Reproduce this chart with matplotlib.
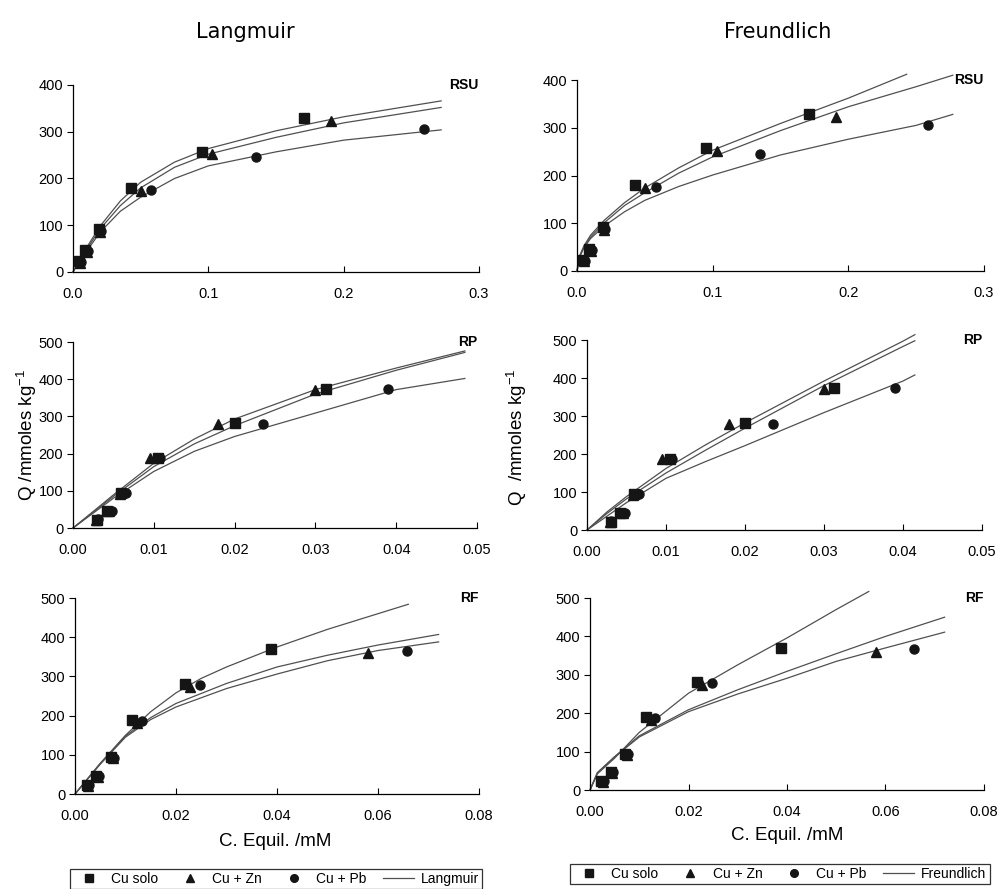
import matplotlib
matplotlib.use('Agg')
import matplotlib.pyplot as plt
from matplotlib.lines import Line2D

plt.rcParams['font.family'] = ['Liberation Sans', 'DejaVu Sans']

# ---- measured points (same for both models) ----
# RSU
rsu_c_solo = [0.0043, 0.009, 0.019, 0.043, 0.095, 0.171]
rsu_q_solo = [23, 46, 92, 180, 257, 329]
rsu_c_zn = [0.005, 0.0105, 0.020, 0.050, 0.103, 0.191]
rsu_q_zn = [20, 42, 86, 174, 252, 322]
rsu_c_pb = [0.006, 0.011, 0.021, 0.058, 0.135, 0.259]
rsu_q_pb = [21, 44, 88, 175, 246, 305]
# RP
rp_c_solo = [0.003, 0.0042, 0.006, 0.0105, 0.020, 0.0313]
rp_q_solo = [22, 45, 94, 188, 282, 375]
rp_c_zn = [0.0029, 0.0045, 0.0058, 0.0095, 0.018, 0.030]
rp_q_zn = [22, 45, 92, 187, 280, 370]
rp_c_pb = [0.0031, 0.0048, 0.0066, 0.0108, 0.0235, 0.039]
rp_q_pb = [24, 46, 94, 188, 280, 375]
# RF
rf_c_solo = [0.0023, 0.0042, 0.0071, 0.0113, 0.0218, 0.0388]
rf_q_solo = [24, 47, 95, 190, 280, 371]
rf_c_zn = [0.0026, 0.0045, 0.0076, 0.0123, 0.0228, 0.058]
rf_q_zn = [21, 44, 91, 181, 273, 360]
rf_c_pb = [0.0028, 0.0047, 0.0078, 0.0132, 0.0248, 0.0658]
rf_q_pb = [24, 47, 93, 187, 278, 366]

# ---- fitted curves ----
# Langmuir RSU
lrsu_c = [0, 0.005, 0.01, 0.02, 0.035, 0.05, 0.075, 0.1, 0.15, 0.2, 0.272]
lrsu_solo = [0, 28, 52, 98, 152, 192, 235, 264, 302, 332, 366]
lrsu_zn = [0, 26, 48, 92, 142, 180, 224, 252, 288, 319, 352]
lrsu_pb = [0, 24, 44, 85, 130, 160, 200, 227, 257, 282, 304]
# Freundlich RSU
frsu_c_solo = [0, 0.002, 0.005, 0.01, 0.02, 0.035, 0.05, 0.075, 0.1, 0.15, 0.2, 0.243]
frsu_solo = [0, 32, 52, 75, 106, 143, 174, 216, 253, 309, 362, 412]
frsu_c = [0, 0.002, 0.005, 0.01, 0.02, 0.035, 0.05, 0.075, 0.1, 0.15, 0.2, 0.25, 0.277]
frsu_zn = [0, 31, 49, 71, 101, 137, 164, 205, 239, 294, 344, 386, 410]
frsu_pb = [0, 30, 48, 68, 94, 124, 148, 177, 201, 243, 276, 305, 328]
# Langmuir RP
lrp_c = [0, 0.005, 0.01, 0.015, 0.02, 0.03, 0.04, 0.0485]
lrp_solo = [0, 89, 174, 239, 293, 372, 430, 476]
lrp_zn = [0, 85, 165, 226, 275, 360, 424, 472]
lrp_pb = [0, 80, 152, 206, 246, 309, 372, 402]
# Freundlich RP
frp_c = [0, 0.0025, 0.005, 0.01, 0.015, 0.02, 0.03, 0.04, 0.0415]
frp_solo = [0, 47, 88, 162, 224, 282, 392, 497, 514]
frp_zn = [0, 43, 82, 150, 210, 268, 380, 483, 498]
frp_pb = [0, 36, 72, 136, 180, 222, 309, 392, 408]
# Langmuir RF
lrf_c_solo = [0, 0.005, 0.01, 0.015, 0.02, 0.025, 0.03, 0.04, 0.05, 0.06, 0.066]
lrf_solo = [0, 78, 150, 210, 258, 295, 324, 375, 420, 460, 484]
lrf_c = [0, 0.005, 0.01, 0.015, 0.02, 0.03, 0.04, 0.05, 0.06, 0.072]
lrf_zn = [0, 78, 148, 195, 231, 282, 324, 354, 380, 407]
lrf_pb = [0, 76, 145, 190, 222, 269, 306, 340, 366, 388]
# Freundlich RF
frf_c_solo = [0, 0.0015, 0.005, 0.01, 0.02, 0.03, 0.04, 0.05, 0.0566]
frf_solo = [0, 42, 83, 150, 252, 326, 396, 470, 517]
frf_c = [0, 0.0015, 0.005, 0.01, 0.02, 0.03, 0.04, 0.05, 0.06, 0.072]
frf_zn = [0, 45, 87, 141, 209, 261, 309, 355, 400, 450]
frf_pb = [0, 45, 86, 138, 204, 250, 291, 335, 370, 411]

labels = ['Cu solo', 'Cu + Zn', 'Cu + Pb']
mk = ['s', '^', 'o']
mcol = '#151515'
lcol = '#505050'

fig = plt.figure(figsize=(10.04, 8.89), dpi=100)

# axes boxes in pixels (left, top, right, bottom) of the 1004x889 picture
boxes = [
    (73, 85, 479, 272), (577, 80, 984, 271),
    (73, 342, 477, 528), (587, 340, 982, 530),
    (75, 598, 479, 794), (590, 598, 984, 790),
]
W, H = 1004.0, 889.0

panels = [
    dict(pts=[(rsu_c_solo, rsu_q_solo), (rsu_c_zn, rsu_q_zn), (rsu_c_pb, rsu_q_pb)],
         fit=[(lrsu_c, lrsu_solo), (lrsu_c, lrsu_zn), (lrsu_c, lrsu_pb)],
         xlim=0.3, xt=[0, 0.1, 0.2, 0.3], fmt='%.1f', ylim=400, name='RSU'),
    dict(pts=[(rsu_c_solo, rsu_q_solo), (rsu_c_zn, rsu_q_zn), (rsu_c_pb, rsu_q_pb)],
         fit=[(frsu_c_solo, frsu_solo), (frsu_c, frsu_zn), (frsu_c, frsu_pb)],
         xlim=0.3, xt=[0, 0.1, 0.2, 0.3], fmt='%.1f', ylim=400, name='RSU'),
    dict(pts=[(rp_c_solo, rp_q_solo), (rp_c_zn, rp_q_zn), (rp_c_pb, rp_q_pb)],
         fit=[(lrp_c, lrp_solo), (lrp_c, lrp_zn), (lrp_c, lrp_pb)],
         xlim=0.05, xt=[0, 0.01, 0.02, 0.03, 0.04, 0.05], fmt='%.2f', ylim=500, name='RP'),
    dict(pts=[(rp_c_solo, rp_q_solo), (rp_c_zn, rp_q_zn), (rp_c_pb, rp_q_pb)],
         fit=[(frp_c, frp_solo), (frp_c, frp_zn), (frp_c, frp_pb)],
         xlim=0.05, xt=[0, 0.01, 0.02, 0.03, 0.04, 0.05], fmt='%.2f', ylim=500, name='RP'),
    dict(pts=[(rf_c_solo, rf_q_solo), (rf_c_zn, rf_q_zn), (rf_c_pb, rf_q_pb)],
         fit=[(lrf_c_solo, lrf_solo), (lrf_c, lrf_zn), (lrf_c, lrf_pb)],
         xlim=0.08, xt=[0, 0.02, 0.04, 0.06, 0.08], fmt='%.2f', ylim=500, name='RF'),
    dict(pts=[(rf_c_solo, rf_q_solo), (rf_c_zn, rf_q_zn), (rf_c_pb, rf_q_pb)],
         fit=[(frf_c_solo, frf_solo), (frf_c, frf_zn), (frf_c, frf_pb)],
         xlim=0.08, xt=[0, 0.02, 0.04, 0.06, 0.08], fmt='%.2f', ylim=500, name='RF'),
]

for box, p in zip(boxes, panels):
    l, t, r, b = box
    ax = fig.add_axes([l / W, 1 - b / H, (r - l) / W, (b - t) / H])
    for cx, qy in p['fit']:
        ax.plot(cx, qy, color=lcol, lw=0.9, zorder=2, clip_on=False)
    for (cx, qy), m in zip(p['pts'], mk):
        ax.plot(cx, qy, linestyle='none', marker=m, ms=7 if m != 'o' else 6.5,
                color=mcol, zorder=3, clip_on=False)
    ax.set_xlim(0, p['xlim'])
    ax.set_ylim(0, p['ylim'])
    ax.set_xticks(p['xt'])
    ax.set_xticklabels([p['fmt'] % v for v in p['xt']])
    ax.set_yticks(range(0, p['ylim'] + 1, 100))
    for s in ['top', 'right']:
        ax.spines[s].set_visible(False)
    for s in ['left', 'bottom']:
        ax.spines[s].set_linewidth(0.9)
    ax.tick_params(axis='x', direction='in', length=4, pad=11, labelsize=10.5)
    ax.tick_params(axis='y', direction='out', length=4, pad=3, labelsize=10.5)
    ax.text(1.0, 1.0, p['name'], transform=ax.transAxes, ha='right', va='center',
            fontsize=10, fontweight='bold')

# column titles
fig.text(245 / W, 1 - 32 / H, 'Langmuir', ha='center', va='center', fontsize=15,
         family='DejaVu Sans')
fig.text(778 / W, 1 - 32 / H, 'Freundlich', ha='center', va='center', fontsize=15,
         family='DejaVu Sans')

# axis labels
fig.text(27 / W, 1 - 435 / H, 'Q /mmoles kg$^{\\mathregular{-1}}$', rotation=90,
         ha='center', va='center', fontsize=13.5)
fig.text(517 / W, 1 - 437 / H, 'Q  /mmoles kg$^{\\mathregular{-1}}$', rotation=90,
         ha='center', va='center', fontsize=13.5)
fig.text(275 / W, 1 - 842 / H, 'C. Equil. /mM', ha='center', va='center', fontsize=13.5)
fig.text(787 / W, 1 - 835 / H, 'C. Equil. /mM', ha='center', va='center', fontsize=13.5)

# legends
def handles(model):
    hs = [Line2D([], [], linestyle='none', marker=m, ms=6 if m != 'o' else 5.5,
                 color=mcol) for m in mk]
    hs.append(Line2D([], [], color=lcol, lw=0.9))
    return hs, labels + [model]

for model, cx, cy in [('Langmuir', 276, 879), ('Freundlich', 780, 874)]:
    hs, lb = handles(model)
    leg = fig.legend(hs, lb, loc='center', bbox_to_anchor=(cx / W, 1 - cy / H),
                     ncol=4, frameon=True, fancybox=False, fontsize=10,
                     handlelength=2.2, handletextpad=0.5, columnspacing=1.2,
                     borderpad=0.25, borderaxespad=0)
    leg.get_frame().set_edgecolor('black')
    leg.get_frame().set_linewidth(0.9)

fig.savefig('out.png', dpi=100)
